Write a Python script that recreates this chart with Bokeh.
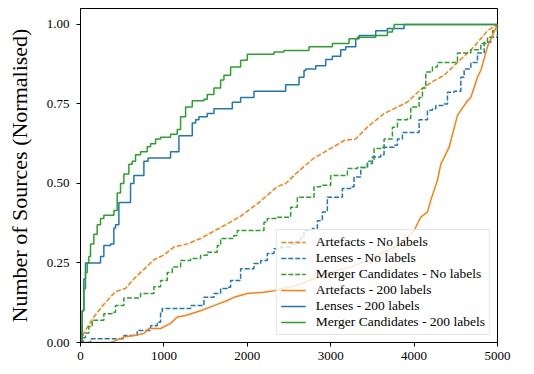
from bokeh.plotting import figure
from bokeh.models import Range1d, FixedTicker, NumeralTickFormatter, Legend, LegendItem
from bokeh.embed import file_html
from bokeh.resources import INLINE

# ---------------- data ----------------
art_nolab_x = [0, 40, 160, 280, 420, 540, 640, 760, 880, 1000, 1120, 1280, 1440, 1600, 1760, 1920,
               2120, 2360, 2460, 2600, 2800, 3000, 3160, 3300, 3440, 3640, 3800, 3920, 4080, 4220,
               4360, 4480, 4720, 4880, 5000]
art_nolab_y = [0, 0.03, 0.08, 0.12, 0.16, 0.17, 0.20, 0.23, 0.26, 0.275, 0.30, 0.31, 0.327, 0.35,
               0.373, 0.397, 0.436, 0.49, 0.50, 0.535, 0.58, 0.61, 0.635, 0.64, 0.677, 0.72, 0.74,
               0.756, 0.795, 0.82, 0.84, 0.87, 0.93, 0.98, 1.0]

len_nolab_x = [0, 120, 520, 680, 840, 920, 960, 980, 1320, 1480, 1600, 1680, 1760, 1800, 1920, 2080,
               2160, 2240, 2320, 2400, 2520, 2600, 2640, 2680, 2780, 2840, 2900, 2960, 3140, 3240,
               3280, 3360, 3440, 3500, 3600, 3640, 3760, 3800, 3860, 4060, 4160, 4220, 4260, 4360,
               4400, 4480, 4560, 4600, 4680, 4760, 4840, 4920, 5000]
len_nolab_y = [0, 0.012, 0.022, 0.038, 0.053, 0.064, 0.095, 0.107, 0.116, 0.142, 0.154, 0.17, 0.174,
               0.195, 0.232, 0.248, 0.258, 0.28, 0.295, 0.30, 0.31, 0.32, 0.33, 0.352, 0.358, 0.383,
               0.41, 0.457, 0.484, 0.49, 0.52, 0.55, 0.563, 0.583, 0.59, 0.614, 0.62, 0.64, 0.66,
               0.70, 0.73, 0.735, 0.745, 0.75, 0.787, 0.79, 0.834, 0.86, 0.88, 0.91, 0.944, 0.96, 1.0]

mer_nolab_x = [0, 30, 60, 100, 140, 280, 380, 420, 520, 720, 880, 960, 1040, 1100, 1200, 1320, 1440,
               1520, 1640, 1680, 1840, 1880, 2200, 2240, 2360, 2520, 2600, 2800, 2880, 3000, 3200,
               3320, 3440, 3520, 3600, 3640, 3740, 3800, 3920, 3960, 4060, 4100, 4140, 4220, 4280,
               4520, 4680, 4800, 4880, 4940, 5000]
mer_nolab_y = [0, 0.015, 0.03, 0.05, 0.07, 0.09, 0.095, 0.116, 0.14, 0.154, 0.175, 0.195, 0.22, 0.237,
               0.258, 0.264, 0.274, 0.284, 0.305, 0.327, 0.336, 0.352, 0.378, 0.39, 0.394, 0.425,
               0.457, 0.49, 0.494, 0.525, 0.547, 0.55, 0.57, 0.61, 0.614, 0.64, 0.677, 0.70, 0.704,
               0.74, 0.77, 0.80, 0.85, 0.866, 0.88, 0.91, 0.92, 0.94, 0.96, 0.98, 1.0]

art_200_x = [0, 360, 420, 520, 640, 760, 820, 960, 1080, 1160, 1260, 1440, 1600, 1760, 1840, 2000,
             2200, 2320, 2600, 3000, 3240, 3440, 3640, 3800, 3920, 4000, 4080, 4160, 4200, 4280,
             4320, 4420, 4520, 4640, 4680, 4760, 4800, 4880, 5000]
art_200_y = [0, 0, 0.006, 0.017, 0.022, 0.028, 0.044, 0.044, 0.06, 0.08, 0.085, 0.10, 0.116, 0.132,
             0.142, 0.154, 0.158, 0.163, 0.18, 0.221, 0.237, 0.258, 0.284, 0.305, 0.33, 0.352,
             0.394, 0.41, 0.447, 0.51, 0.56, 0.614, 0.714, 0.76, 0.77, 0.834, 0.855, 0.93, 1.0]

len_200_x = [0, 20, 40, 60, 240, 280, 360, 400, 420, 460, 600, 640, 760, 810, 1080, 1180, 1340, 1380,
             1420, 1520, 1600, 1820, 1920, 2080, 2460, 2620, 2680, 2700, 2820, 2940, 3020, 3120,
             3180, 3300, 3340, 3540, 3680, 3880, 5000]
len_200_y = [0, 0.10, 0.20, 0.25, 0.27, 0.305, 0.31, 0.36, 0.37, 0.44, 0.50, 0.525, 0.57, 0.58, 0.60,
             0.65, 0.69, 0.70, 0.71, 0.72, 0.735, 0.755, 0.77, 0.79, 0.81, 0.834, 0.855, 0.86, 0.87,
             0.89, 0.90, 0.92, 0.93, 0.955, 0.965, 0.98, 0.987, 1.0, 1.0]

mer_200_x = [0, 10, 20, 40, 60, 80, 100, 120, 160, 200, 240, 280, 400, 440, 480, 520, 580, 620, 660,
             720, 800, 840, 900, 960, 1080, 1160, 1200, 1260, 1340, 1480, 1520, 1600, 1680, 1720,
             1800, 1920, 2000, 2320, 2440, 2740, 3020, 3220, 3320, 3540, 3680, 3740, 3760, 5000]
mer_200_y = [0, 0.05, 0.10, 0.17, 0.22, 0.25, 0.27, 0.31, 0.34, 0.37, 0.39, 0.40, 0.415, 0.47, 0.50,
             0.53, 0.56, 0.57, 0.59, 0.60, 0.615, 0.625, 0.64, 0.645, 0.655, 0.67, 0.71, 0.74, 0.76,
             0.765, 0.78, 0.80, 0.825, 0.84, 0.866, 0.887, 0.906, 0.913, 0.918, 0.93, 0.94, 0.955,
             0.96, 0.965, 0.976, 0.986, 1.0, 1.0]

x_ticks = [0, 1000, 2000, 3000, 4000, 5000]
y_ticks = [0.0, 0.25, 0.5, 0.75, 1.0]
labels = ["Artefacts - No labels", "Lenses - No labels", "Merger Candidates - No labels",
          "Artefacts - 200 labels", "Lenses - 200 labels", "Merger Candidates - 200 labels"]

ORANGE, BLUE, GREEN = "#ff7f0e", "#1f77b4", "#2ca02c"
SERIF = "Liberation Serif"

p = figure(width=528, height=372, output_backend="svg", toolbar_location=None,
           x_range=Range1d(0, 5000), y_range=Range1d(0, 1.05),
           min_border_left=80, min_border_right=31, min_border_top=8, min_border_bottom=30)
p.grid.visible = False
p.outline_line_color = "black"
p.outline_line_width = 1
p.background_fill_color = "white"

r1 = p.line(art_nolab_x, art_nolab_y, line_color=ORANGE, line_width=1.5, line_dash="5 2")
r2 = p.step(len_nolab_x, len_nolab_y, mode="after", line_color=BLUE, line_width=1.5, line_dash="5 2")
r3 = p.step(mer_nolab_x, mer_nolab_y, mode="after", line_color=GREEN, line_width=1.5, line_dash="5 2")
r4 = p.line(art_200_x, art_200_y, line_color=ORANGE, line_width=1.5)
r5 = p.step(len_200_x, len_200_y, mode="after", line_color=BLUE, line_width=1.5)
r6 = p.step(mer_200_x, mer_200_y, mode="after", line_color=GREEN, line_width=1.5)

for ax in (p.xaxis[0], p.yaxis[0]):
    ax.major_tick_out = 4
    ax.major_tick_in = 0
    ax.minor_tick_line_color = None
    ax.axis_line_color = "black"
    ax.major_tick_line_color = "black"
    ax.major_label_text_font = SERIF
    ax.major_label_text_font_size = "13px"
    ax.major_label_text_color = "black"

p.xaxis.ticker = FixedTicker(ticks=x_ticks)
p.yaxis.ticker = FixedTicker(ticks=y_ticks)
p.xaxis.formatter = NumeralTickFormatter(format="0")
p.yaxis.formatter = NumeralTickFormatter(format="0.00")
p.xaxis.major_label_standoff = 5
p.yaxis.major_label_standoff = 7

p.yaxis.axis_label = "Number of Sources (Normalised)"
p.yaxis.axis_label_text_font = SERIF
p.yaxis.axis_label_text_font_size = "22px"
p.yaxis.axis_label_text_font_style = "normal"
p.yaxis.axis_label_text_color = "black"
p.yaxis.axis_label_standoff = 12

legend = Legend(items=[LegendItem(label=l, renderers=[r]) for l, r in
                       zip(labels, [r1, r2, r3, r4, r5, r6])],
                location="bottom_right")
legend.margin = 7
legend.padding = 4
legend.spacing = 0
legend.glyph_width = 25
legend.glyph_height = 12
legend.label_height = 12
legend.label_standoff = 10
legend.label_text_font = SERIF
legend.label_text_font_size = "13.5px"
legend.label_text_color = "black"
legend.border_line_color = "#cccccc"
legend.border_line_width = 1
legend.background_fill_alpha = 0.8
p.add_layout(legend)

open("out.html", "w").write(file_html(p, INLINE))
